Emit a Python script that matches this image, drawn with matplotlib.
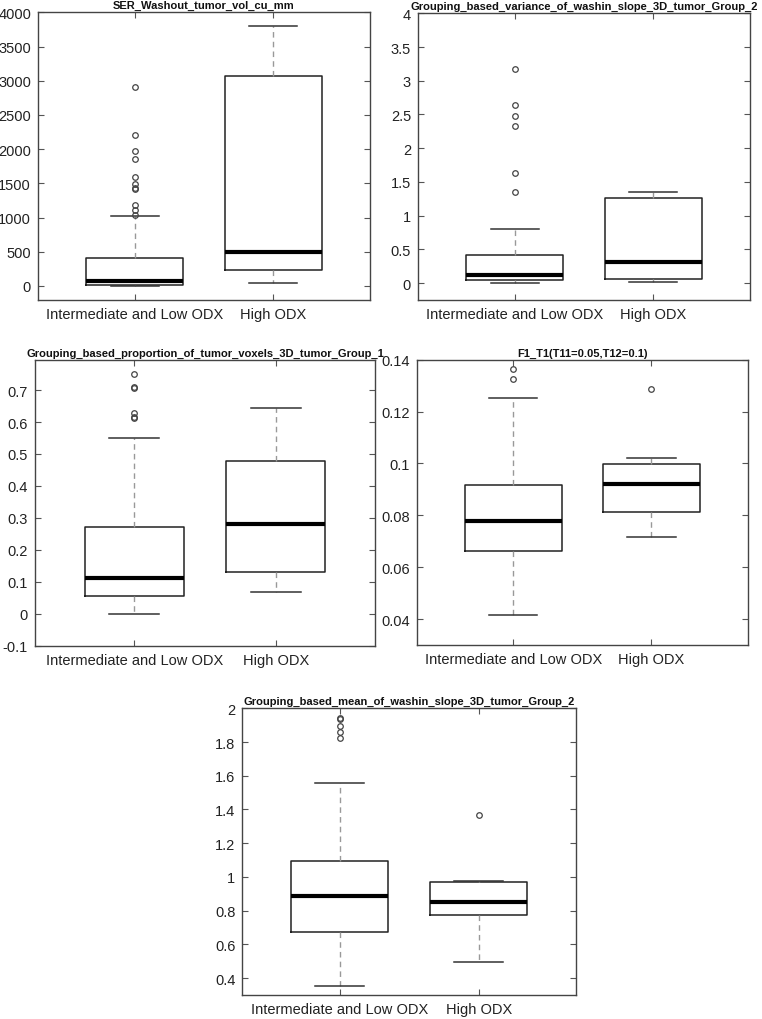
import matplotlib
matplotlib.use("Agg")
import matplotlib.pyplot as plt

plt.rcParams['font.family'] = ['Liberation Sans', 'DejaVu Sans']

categories = ["Intermediate and Low ODX", "High ODX"]

titles = [
    "SER_Washout_tumor_vol_cu_mm",
    "Grouping_based_variance_of_washin_slope_3D_tumor_Group_2",
    "Grouping_based_proportion_of_tumor_voxels_3D_tumor_Group_1",
    "F1_T1(T11=0.05,T12=0.1)",
    "Grouping_based_mean_of_washin_slope_3D_tumor_Group_2",
]

# five-number summaries per panel: [whislo, q1, med, q3, whishi] for each group
p1_low = [0, 10, 78, 416, 1022]
p1_high = [44, 240, 499, 3071, 3795]
p1_fliers_low = [2905, 2205, 1980, 1863, 1594, 1487, 1438, 1413, 1183, 1105, 1042]
p1_fliers_high = []

p2_low = [0.0, 0.045, 0.119, 0.41, 0.80]
p2_high = [0.02, 0.06, 0.316, 1.256, 1.355]
p2_fliers_low = [3.18, 2.64, 2.47, 2.33, 1.63, 1.345]
p2_fliers_high = []

p3_low = [0.0, 0.0566, 0.112, 0.272, 0.549]
p3_high = [0.068, 0.131, 0.282, 0.477, 0.643]
p3_fliers_low = [0.751, 0.709, 0.707, 0.628, 0.617, 0.611]
p3_fliers_high = []

p4_low = [0.0415, 0.0664, 0.0778, 0.0917, 0.1252]
p4_high = [0.0717, 0.0811, 0.0919, 0.0999, 0.1022]
p4_fliers_low = [0.1365, 0.1327]
p4_fliers_high = [0.1286]

p5_low = [0.351, 0.671, 0.886, 1.093, 1.558]
p5_high = [0.495, 0.772, 0.851, 0.968, 0.974]
p5_fliers_low = [1.943, 1.937, 1.893, 1.858, 1.822]
p5_fliers_high = [1.37]

ylims = [(-205, 4000), (-0.252, 4.0), (-0.1, 0.795), (0.03, 0.14), (0.3, 2.0)]
yticks = [
    [0, 500, 1000, 1500, 2000, 2500, 3000, 3500, 4000],
    [0, 0.5, 1, 1.5, 2, 2.5, 3, 3.5, 4],
    [-0.1, 0, 0.1, 0.2, 0.3, 0.4, 0.5, 0.6, 0.7],
    [0.04, 0.06, 0.08, 0.1, 0.12, 0.14],
    [0.4, 0.6, 0.8, 1, 1.2, 1.4, 1.6, 1.8, 2],
]

positions_px = [
    (38, 13.3, 370, 301),
    (418, 14.3, 750, 301),
    (35, 360.7, 375, 646.7),
    (416.7, 360.7, 748, 646),
    (242.3, 709.3, 576, 996),
]

panels = [
    (p1_low, p1_high, p1_fliers_low, p1_fliers_high),
    (p2_low, p2_high, p2_fliers_low, p2_fliers_high),
    (p3_low, p3_high, p3_fliers_low, p3_fliers_high),
    (p4_low, p4_high, p4_fliers_low, p4_fliers_high),
    (p5_low, p5_high, p5_fliers_low, p5_fliers_high),
]

W, H = 762, 1020
fig = plt.figure(figsize=(W / 100, H / 100), dpi=100)

for i, (low, high, fl, fh) in enumerate(panels):
    l, t, r, b = positions_px[i]
    ax = fig.add_axes([l / W, 1 - b / H, (r - l) / W, (b - t) / H])
    stats = []
    for vals, fliers, lab in [(low, fl, categories[0]), (high, fh, categories[1])]:
        stats.append(dict(whislo=vals[0], q1=vals[1], med=vals[2], q3=vals[3],
                          whishi=vals[4], fliers=fliers, label=lab))
    ax.bxp(stats, positions=[1, 2], widths=0.7, showfliers=True,
           boxprops=dict(color='#222222', linewidth=1.1),
           medianprops=dict(color='black', linewidth=3.0),
           whiskerprops=dict(color='#999999', linewidth=1.0, linestyle=(0, (4, 3))),
           capprops=dict(color='#333333', linewidth=1.1),
           capwidths=0.35,
           flierprops=dict(marker='o', markersize=4.0, markerfacecolor='none',
                           markeredgecolor='#444444', markeredgewidth=0.9))
    ax.set_xlim(0.3, 2.7)
    ax.set_ylim(*ylims[i])
    ax.set_yticks(yticks[i])
    ax.set_yticklabels(['%g' % v for v in yticks[i]])
    ax.set_xticks([1, 2])
    ax.set_xticklabels(categories)
    ax.tick_params(direction='in', top=True, right=True, length=4, width=0.8,
                   color='#555555', labelsize=10.5, labelcolor='#222222', pad=5)
    ax.tick_params(axis='x', pad=5)
    for s in ax.spines.values():
        s.set_color('#444444')
        s.set_linewidth(1.0)
    ax.set_title(titles[i], fontsize=8, fontweight='bold', pad=3, color='#111111')

fig.savefig("out.png", dpi=100)
